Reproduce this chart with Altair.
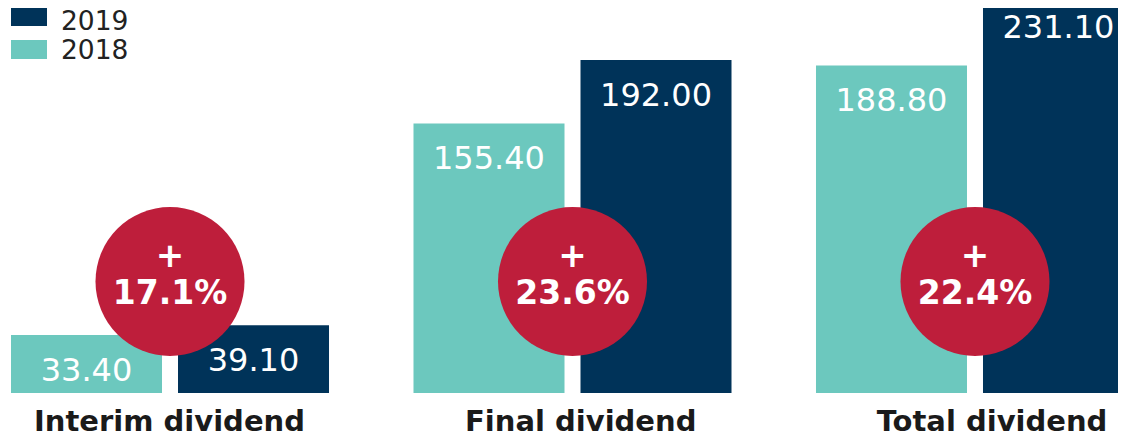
import altair as alt
import pandas as pd

groups = ["Interim dividend", "Final dividend", "Total dividend"]
years = ["2018", "2019"]
values_2018 = [33.40, 155.40, 188.80]
values_2019 = [39.10, 192.00, 231.10]
growth = ["17.1%", "23.6%", "22.4%"]
legend_years = ["2019", "2018"]

TEAL = "#6CC8BE"
NAVY = "#003359"
RED = "#BE1E3B"
FONT = "DejaVu Sans"

rows = []
for g, a, b in zip(groups, values_2018, values_2019):
    rows.append({"group": g, "year": "2018", "value": a})
    rows.append({"group": g, "year": "2019", "value": b})
bars_df = pd.DataFrame(rows)
growth_df = pd.DataFrame({"group": groups, "growth": growth})
legend_df = pd.DataFrame({"year": legend_years})

x_enc = alt.X(
    "group:N",
    sort=groups,
    scale=alt.Scale(range=[0, 1129], paddingInner=0.2099, paddingOuter=0.00745),
    axis=alt.Axis(
        title=None, ticks=False, domain=False, grid=False, labelAngle=0,
        labelFontSize=29, labelFontWeight="bold", labelColor="#1a1a1a",
        labelPadding=14, labelOffset=alt.ExprRef("-0.5 + 17.5 * datum.index"),
        labelFont=FONT, labelLimit=0,
    ),
)
xo = alt.XOffset("year:N", sort=years, scale=alt.Scale(paddingInner=0.0958, paddingOuter=0))
y_enc = alt.Y("value:Q", scale=alt.Scale(domain=[0, 221.9], nice=False, zero=True), axis=None)
color = alt.Color("year:N", scale=alt.Scale(domain=years, range=[TEAL, NAVY]), legend=None)

base = alt.Chart(bars_df)
bars = base.mark_bar(clip=True).encode(x=x_enc, xOffset=xo, y=y_enc, color=color)
labels = base.mark_text(dy=36, fontSize=32, color="white", font=FONT, baseline="middle").encode(
    x=x_enc, xOffset=xo, y=y_enc, text=alt.Text("value:Q", format=".2f")
)

gbase = alt.Chart(growth_df)
circles = gbase.mark_point(filled=True, shape="circle", size=22201, color=RED, opacity=1, strokeWidth=0).encode(
    x=x_enc, y=alt.value(273.5)
)
plus = gbase.mark_text(text="+", fontSize=34, fontWeight="bold", color="white", font=FONT, baseline="middle").encode(
    x=x_enc, y=alt.value(249)
)
pct = gbase.mark_text(fontSize=33, fontWeight="bold", color="white", font=FONT, baseline="middle").encode(
    x=x_enc, y=alt.value(286), text="growth:N"
)

legend_text_y = [13.5, 42.5]
layers = [bars, labels, circles, plus, pct]
for i, yr in enumerate(legend_years):
    lb = alt.Chart(legend_df).transform_filter(alt.datum.year == yr)
    layers.append(
        lb.mark_rect().encode(
            x=alt.value(3), x2=alt.value(39),
            y=alt.value(-1 + 33 * i), y2=alt.value(18 + 33 * i), color=color,
        )
    )
    layers.append(
        lb.mark_text(align="left", baseline="middle", fontSize=26.5, color="#222222", font=FONT).encode(
            x=alt.value(53), y=alt.value(legend_text_y[i]), text="year:N"
        )
    )

chart = alt.layer(*layers).properties(
    width=1110, height=385,
    autosize=alt.AutoSizeParams(type="none"),
    padding={"left": 0, "top": 0, "right": 0, "bottom": 43},
    background="white",
).configure_view(stroke=None)

chart.save("out.html", embed_options={"renderer": "svg", "actions": False})
